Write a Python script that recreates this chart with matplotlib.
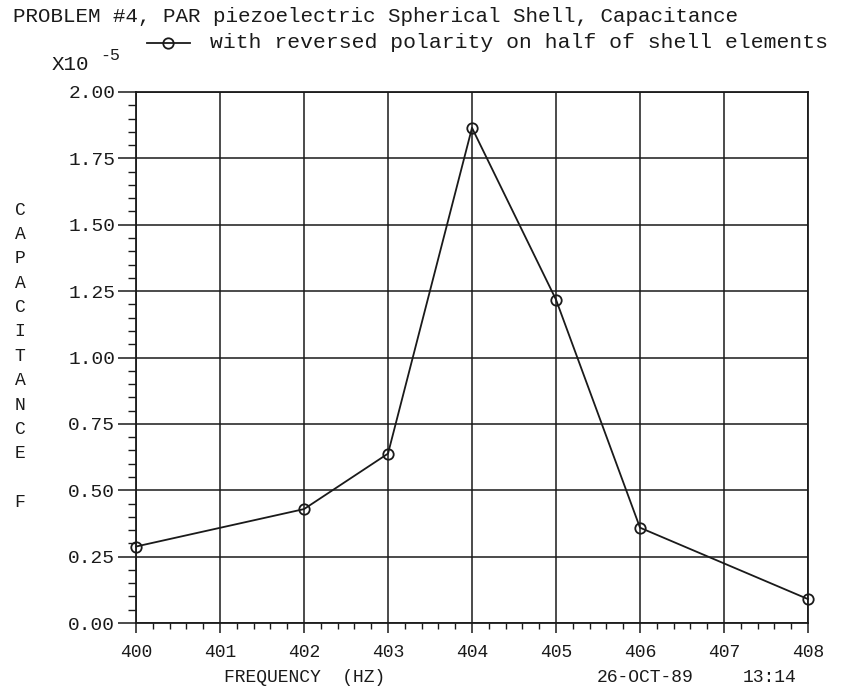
import matplotlib
matplotlib.use("Agg")
import matplotlib.pyplot as plt
from matplotlib.ticker import MultipleLocator, FormatStrFormatter

# data (capacitance in units of 1e-5 F)
freq = [400, 402, 403, 404, 405, 406, 408]
cap = [0.288, 0.429, 0.638, 1.865, 1.218, 0.359, 0.090]
series_name = "with reversed polarity on half of shell elements"
title = "PROBLEM #4, PAR piezoelectric Spherical Shell, Capacitance"
ylabel_letters = list("CAPACITANCE") + [" ", "F"]

plt.rcParams['font.family'] = ['Liberation Mono', 'DejaVu Sans Mono']
ink = '#1a1a1a'

fig = plt.figure(figsize=(8.49, 6.99), dpi=100)
W, H = 849.0, 699.0
ax = fig.add_axes([136 / W, 1 - 623 / H, (808 - 136) / W, (623 - 92) / H])

ax.plot(freq, cap, color=ink, lw=1.3, marker='o', ms=7.5, mfc='none',
        mec=ink, mew=1.3, clip_on=False, zorder=3)

ax.set_xlim(400, 408)
ax.set_ylim(0, 2.0)
ax.xaxis.set_major_locator(MultipleLocator(1))
ax.xaxis.set_minor_locator(MultipleLocator(0.2))
ax.yaxis.set_major_locator(MultipleLocator(0.25))
ax.yaxis.set_minor_locator(MultipleLocator(0.05))
ax.yaxis.set_major_formatter(FormatStrFormatter('%.2f'))
ax.grid(True, which='major', color=ink, lw=1.1)
ax.tick_params(which='both', direction='out', colors=ink)
ax.tick_params(axis='y', which='major', length=13, width=1.1, labelsize=14, pad=2)
ax.tick_params(axis='y', which='minor', length=6, width=1.0)
ax.tick_params(axis='x', which='major', length=7, width=1.1, labelsize=13, pad=8)
ax.tick_params(axis='x', which='minor', length=4.5, width=1.0)
for s in ax.spines.values():
    s.set_color(ink)
    s.set_linewidth(1.3)

# header texts
fig.text(13 / W, 1 - 17 / H, title, fontsize=15, color=ink, va='center')
fig.lines.append(plt.Line2D([147 / W, 190 / W], [1 - 43 / H, 1 - 43 / H],
                            transform=fig.transFigure, color=ink, lw=1.3))
fig.lines.append(plt.Line2D([168 / W], [1 - 43 / H], transform=fig.transFigure,
                            marker='o', ms=7.5, mfc='none', mec=ink, mew=1.3, color=ink))
fig.text(210 / W, 1 - 43 / H, series_name, fontsize=15.4, color=ink, va='center')
fig.text(52 / W, 1 - 65 / H, "X10", fontsize=15, color=ink, va='center')
fig.text(100 / W, 1 - 56 / H, "-5", fontsize=12, color=ink, va='center')

# stacked y label
y0 = 210
for i, ch in enumerate(ylabel_letters):
    fig.text(20 / W, 1 - (y0 + i * 24.4) / H, ch, fontsize=13, color=ink,
             ha='center', va='center')

fig.text(305 / W, 1 - 678 / H, "FREQUENCY  (HZ)", fontsize=13, color=ink,
         ha='center', va='center')
fig.text(645 / W, 1 - 678 / H, "26-OCT-89", fontsize=13, color=ink,
         ha='center', va='center')
fig.text(770 / W, 1 - 678 / H, "13:14", fontsize=13, color=ink,
         ha='center', va='center')

fig.savefig("out.png", dpi=100)
